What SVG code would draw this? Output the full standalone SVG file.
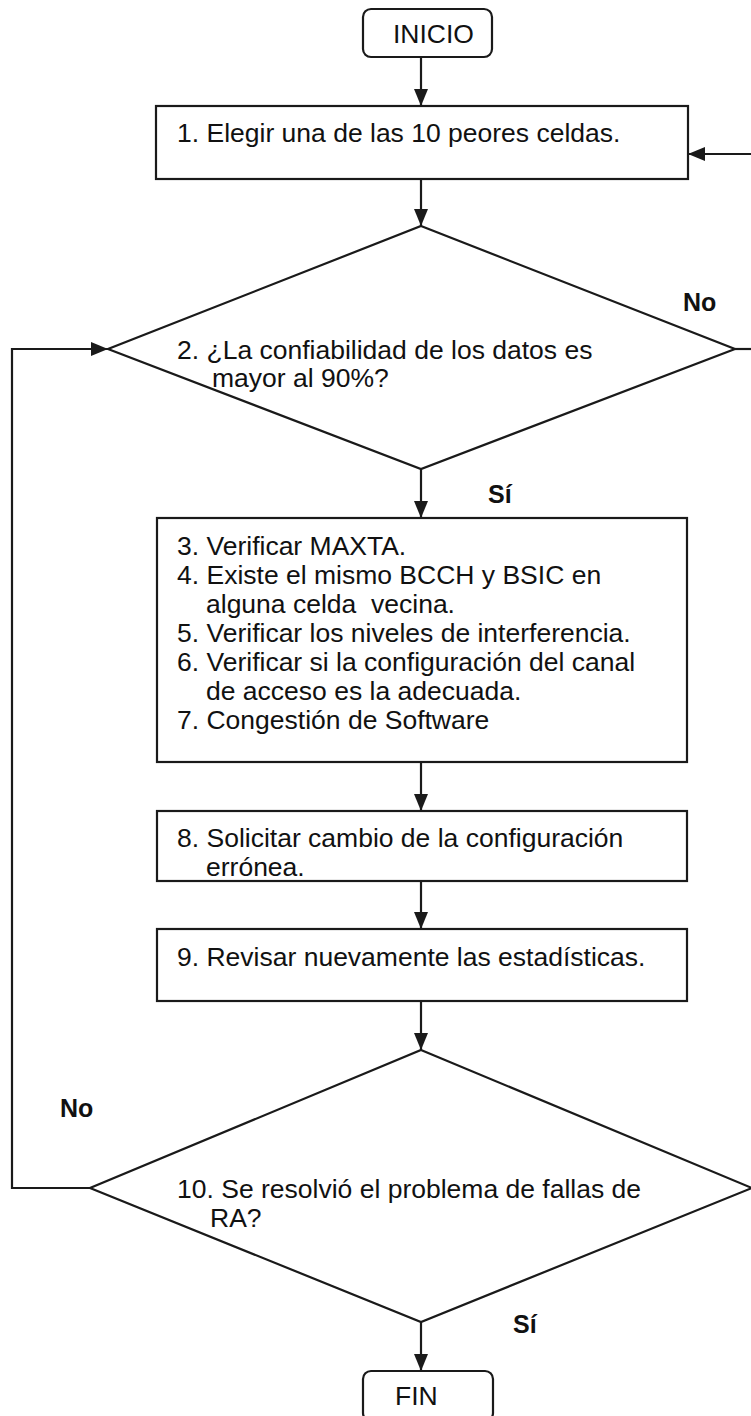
<svg xmlns="http://www.w3.org/2000/svg" width="751" height="1416" viewBox="0 0 751 1416">
<defs>
<marker id="arr" markerWidth="17" markerHeight="14" refX="17" refY="7" orient="auto" markerUnits="userSpaceOnUse">
<path d="M0,0 L17,7 L0,14 Z" fill="#1a1a1a"/>
</marker>
<style>
.shape{fill:#fff;stroke:#1a1a1a;stroke-width:2.2}
.line{fill:none;stroke:#1a1a1a;stroke-width:2.2}
.t{font-family:"Liberation Sans",Arial,sans-serif;font-size:26.5px;fill:#111}
.b{font-family:"Liberation Sans",Arial,sans-serif;font-size:25px;font-weight:bold;fill:#111}
</style>
</defs>
<rect width="751" height="1416" fill="#fff"/>
<g id="connectors">
<line class="line" x1="421" y1="57" x2="421" y2="106" marker-end="url(#arr)"/>
<line class="line" x1="421" y1="179" x2="421" y2="226" marker-end="url(#arr)"/>
<line class="line" x1="421" y1="469" x2="421" y2="518" marker-end="url(#arr)"/>
<line class="line" x1="421" y1="762" x2="421" y2="811" marker-end="url(#arr)"/>
<line class="line" x1="421" y1="881" x2="421" y2="929" marker-end="url(#arr)"/>
<line class="line" x1="421" y1="1001" x2="421" y2="1050" marker-end="url(#arr)"/>
<line class="line" x1="421" y1="1322" x2="421" y2="1371" marker-end="url(#arr)"/>
<line class="line" x1="735" y1="349" x2="755" y2="349"/>
<line class="line" x1="755" y1="154" x2="688" y2="154" marker-end="url(#arr)"/>
<polyline class="line" points="90,1188 12,1188 12,349 108,349" marker-end="url(#arr)"/>
<text class="b" x="683" y="311">No</text>
<text class="b" x="488" y="503">Sí</text>
<text class="b" x="60" y="1117">No</text>
<text class="b" x="513" y="1333">Sí</text>
</g>
<g id="inicio">
<rect class="shape" x="363" y="9" width="129" height="48" rx="8"/>
<text class="t" x="393" y="43">INICIO</text>
</g>
<g id="step1">
<rect class="shape" x="156" y="106" width="532" height="73"/>
<text class="t" x="177" y="142">1. Elegir una de las 10 peores celdas.</text>
</g>
<g id="decision2">
<polygon class="shape" points="421,226 735,349 421,469 108,349"/>
<text class="t" x="177" y="359">2. ¿La confiabilidad de los datos es</text>
<text class="t" x="212" y="387">mayor al 90%?</text>
</g>
<g id="steps3to7">
<rect class="shape" x="157" y="518" width="530" height="244"/>
<text class="t" x="177" y="555">3. Verificar MAXTA.</text>
<text class="t" x="177" y="584">4. Existe el mismo BCCH y BSIC en</text>
<text class="t" x="206" y="613" xml:space="preserve">alguna celda  vecina.</text>
<text class="t" x="177" y="642">5. Verificar los niveles de interferencia.</text>
<text class="t" x="177" y="671">6. Verificar si la configuración del canal</text>
<text class="t" x="206" y="700">de acceso es la adecuada.</text>
<text class="t" x="177" y="729">7. Congestión de Software</text>
</g>
<g id="step8">
<rect class="shape" x="157" y="811" width="530" height="70"/>
<text class="t" x="177" y="847">8. Solicitar cambio de la configuración</text>
<text class="t" x="206" y="876">errónea.</text>
</g>
<g id="step9">
<rect class="shape" x="157" y="929" width="530" height="72"/>
<text class="t" x="177" y="966">9. Revisar nuevamente las estadísticas.</text>
</g>
<g id="decision10">
<polygon class="shape" points="421,1050 752,1188 421,1322 90,1188"/>
<text class="t" x="177" y="1198">10. Se resolvió el problema de fallas de</text>
<text class="t" x="210" y="1227">RA?</text>
</g>
<g id="fin">
<rect class="shape" x="363" y="1371" width="130" height="50" rx="8"/>
<text class="t" x="395" y="1405">FIN</text>
</g>
</svg>
